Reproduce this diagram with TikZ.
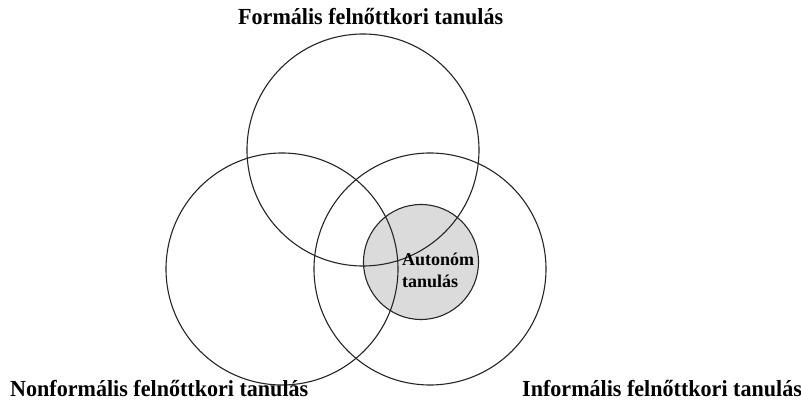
\documentclass[tikz,border=0pt]{standalone}
\usepackage{fontspec}
\setmainfont{Liberation Serif}
\begin{document}
\begin{tikzpicture}[x=1pt,y=-1pt,
  ring/.style={draw=black!85,line width=1.1pt},
  core/.style={draw=black!85,line width=1.1pt,fill=black!14},
  title/.style={inner sep=0pt,anchor=base west,font=\bfseries\fontsize{23}{26}\selectfont,xscale=0.96},
  inner/.style={inner sep=0pt,anchor=base west,font=\bfseries\fontsize{18}{21}\selectfont}]
\useasboundingbox (0,0) rectangle (801,403);
\fill[white] (0,0) rectangle (801,403);
\draw[core] (421,262) circle[radius=57.5];
\draw[ring] (363,150) circle[radius=116];
\draw[ring] (282,269) circle[radius=116];
\draw[ring] (430,269) circle[radius=116];
\node[title] (tf) at (238,25) {Formális felnőttkori tanulás};
\node[title] (tn) at (10,397) {Nonformális felnőttkori tanulás};
\node[title] (ti) at (522,397) {Informális felnőttkori tanulás};
\node[inner] (a1) at (402,266) {Autonóm};
\node[inner] (a2) at (402,288) {tanulás};
\end{tikzpicture}
\end{document}
